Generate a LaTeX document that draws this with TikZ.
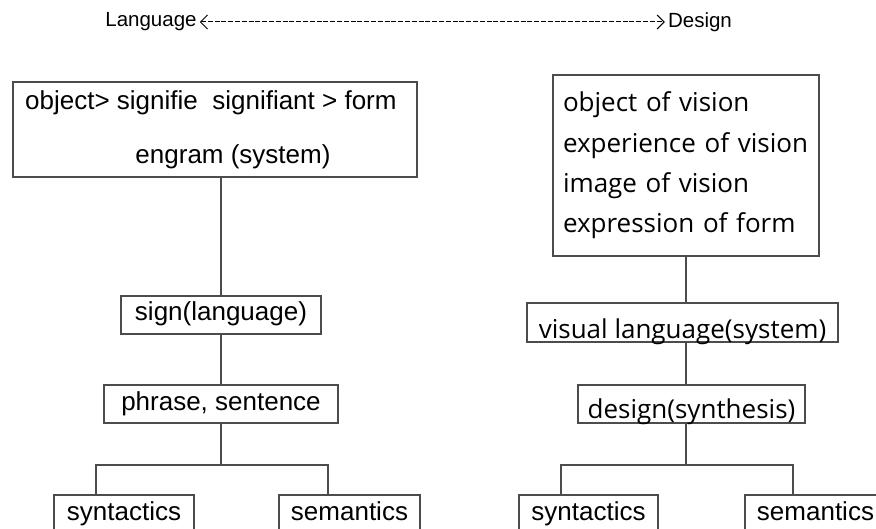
\documentclass[tikz,border=0pt]{standalone}
\usepackage{fontspec}
\setmainfont{Liberation Sans}
\newfontfamily\visfont{Open Sans}
\usetikzlibrary{arrows.meta,positioning}

\begin{document}
\begin{tikzpicture}[
				x = 1pt, y = -1pt,
				box/.style = {draw = black!70, line width = 1.3pt, rectangle, inner sep = 0pt, font = \fontsize{26}{30}\selectfont},
				cell/.style = {box, minimum height = 38pt, text height = 18pt, text depth = 6pt},
				visbox/.style = {box, font = \visfont\fontsize{26}{30}\selectfont},
				link/.style = {draw = black!70, line width = 1.3pt},
				head/.style = {font = \fontsize{20.5}{24}\selectfont, inner xsep = 3pt}
			]

			\clip (0,0) rectangle (876,529);

			\node[head] (lang) at (151,22) {Language};
			\node[head] (design) at (700,22) {Design};
			\draw[{Straight Barb[length=7pt,width=14pt]}-{Straight Barb[length=7pt,width=14pt]}, dash pattern = on 5pt off 1.8pt, line width = 1pt] (lang) -- (design);

			% language side
			\node[box, minimum width = 404pt, minimum height = 95pt] (formL) at (215,129.5) {};
			\node[anchor = west, inner sep = 0pt, font = \fontsize{26}{30}\selectfont] (objL) at (25,103) {object> signifie\ \ signifiant > form};
			\node[font = \fontsize{26}{30}\selectfont] (engramL) at (233,157) {engram (system)};
			\node[cell, minimum width = 200pt] (signL) at (221,315) {sign(language)};
			\node[cell, minimum width = 234pt] (phraseL) at (221,404) {phrase, sentence};
			\node[cell, minimum width = 140pt] (synL) at (124,514) {syntactics};
			\node[cell, minimum width = 141pt] (semL) at (349.5,514) {semantics};
			\coordinate (jL) at (221,465);

			\draw[link] (signL.north) -- (signL.north |- formL.south);
			\draw[link] (signL) -- (phraseL);
			\draw[link] (phraseL) -- (jL);
			\draw[link] ([xshift=-28pt]synL.north) |- (jL) -| ([xshift=-21.5pt]semL.north);

			% design side
			\node[visbox, minimum height = 181pt, text width = 246pt, inner xsep = 10pt, align = left, font = \visfont\fontsize{26}{40.3}\selectfont] (visionR) at (686,165.5)
				{object of vision\\experience of vision\\image of vision\\expression of form};
			\node[visbox, minimum width = 311pt, text height = 33pt, text depth = 0pt, inner ysep = 3pt] (visR) at (682.5,322.5) {visual language(system)};
			\node[visbox, minimum width = 227pt, text height = 30pt, text depth = 2pt, inner ysep = 3pt] (synthR) at (691.5,404) {design(synthesis)};
			\node[cell, minimum width = 139pt] (synR) at (588.5,514) {syntactics};
			\node[cell, minimum width = 141pt] (semR) at (815.5,514) {semantics};
			\coordinate (jR) at (686,465);

			\draw[link] (visionR.south) -- (visionR.south |- visR.north);
			\draw[link] (visR.south -| visionR.south) -- (synthR.north -| visionR.south);
			\draw[link] (synthR.south -| jR) -- (jR);
			\draw[link] ([xshift=-27.5pt]synR.north) |- (jR) -| ([xshift=-22.5pt]semR.north);

			\end{tikzpicture}
\end{document}
